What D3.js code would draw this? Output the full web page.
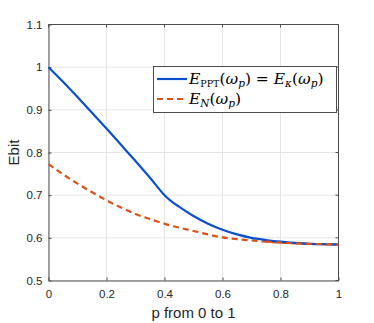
<!DOCTYPE html>
<html><head><meta charset="utf-8">
<script src="https://cdn.jsdelivr.net/npm/d3@7"></script>
<style>body{margin:0;background:#fff}</style>
</head><body>
<svg id="c" width="374" height="323"></svg>
<script>
const pValues = [0,0.05,0.1,0.15,0.2,0.25,0.3,0.35,0.4,0.425,0.45,0.5,0.55,0.6,0.65,0.7,0.75,0.8,0.85,0.9,0.95,1];
const eppt   = [1.0,0.966,0.930,0.893,0.856,0.818,0.780,0.741,0.700,0.685,0.673,0.651,0.633,0.619,0.608,0.600,0.595,0.591,0.588,0.586,0.585,0.584];
const en     = [0.773,0.749,0.727,0.707,0.688,0.671,0.656,0.644,0.633,0.628,0.624,0.616,0.608,0.601,0.597,0.594,0.591,0.589,0.587,0.586,0.585,0.584];
const xTicks = [0,0.2,0.4,0.6,0.8,1];
const yTicks = [0.5,0.6,0.7,0.8,0.9,1,1.1];
const xTickLabels = ["0","0.2","0.4","0.6","0.8","1"];
const yTickLabels = ["0.5","0.6","0.7","0.8","0.9","1","1.1"];

const svg = d3.select("#c");
const L=48.5, R=338.5, T=24.5, B=280.5;
const x = d3.scaleLinear().domain([0,1]).range([L,R]);
const y = d3.scaleLinear().domain([0.5,1.1]).range([B,T]);
const axisCol = "#4d4d4d", txtCol = "#262626";
const sans = "Helvetica, Arial, 'Liberation Sans', sans-serif";

// grid
const g = svg.append("g");
g.selectAll(".gx").data(xTicks).join("line")
  .attr("x1",d=>x(d)).attr("x2",d=>x(d)).attr("y1",T).attr("y2",B)
  .attr("stroke","#e5e5e5").attr("stroke-width",1);
g.selectAll(".gy").data(yTicks).join("line")
  .attr("y1",d=>y(d)).attr("y2",d=>y(d)).attr("x1",L).attr("x2",R)
  .attr("stroke","#e5e5e5").attr("stroke-width",1);

// axes
const xa = svg.append("g").attr("transform",`translate(0,${B})`)
  .call(d3.axisBottom(x).tickValues(xTicks).tickFormat((d,i)=>xTickLabels[i]).tickSizeInner(-3).tickSizeOuter(0).tickPadding(9));
const ya = svg.append("g").attr("transform",`translate(${L},0)`)
  .call(d3.axisLeft(y).tickValues(yTicks).tickFormat((d,i)=>yTickLabels[i]).tickSizeInner(-3).tickSizeOuter(0).tickPadding(6));
[xa,ya].forEach(a=>{
  a.select(".domain").attr("stroke",axisCol);
  a.selectAll(".tick line").attr("stroke",axisCol);
  a.selectAll(".tick text").attr("fill",txtCol).style("font-family",sans).style("font-size","11.5px");
});
// top & right box
svg.append("line").attr("x1",L).attr("x2",R).attr("y1",T).attr("y2",T).attr("stroke",axisCol);
svg.append("line").attr("x1",R).attr("x2",R).attr("y1",T).attr("y2",B).attr("stroke",axisCol);
svg.selectAll(".tt").data(xTicks).join("line").attr("x1",d=>x(d)).attr("x2",d=>x(d)).attr("y1",T).attr("y2",T+3).attr("stroke",axisCol);
svg.selectAll(".rt").data(yTicks).join("line").attr("y1",d=>y(d)).attr("y2",d=>y(d)).attr("x1",R).attr("x2",R-3).attr("stroke",axisCol);

// lines
const line = d3.line().x(d=>x(d[0])).y(d=>y(d[1])).curve(d3.curveMonotoneX);
const blue = "#0b4fcf", red = "#d95319";
svg.append("path").attr("d",line(pValues.map((p,i)=>[p,en[i]])))
  .attr("fill","none").attr("stroke",red).attr("stroke-width",2.2).attr("stroke-dasharray","6,4");
svg.append("path").attr("d",line(pValues.map((p,i)=>[p,eppt[i]])))
  .attr("fill","none").attr("stroke",blue).attr("stroke-width",2.2);
svg.append("path").attr("d",line(pValues.map((p,i)=>[p,en[i]]).slice(16)))
  .attr("fill","none").attr("stroke",red).attr("stroke-width",2.2).attr("stroke-dasharray","6,4");

// axis labels
svg.append("text").attr("x",(L+R)/2).attr("y",318).attr("text-anchor","middle")
  .attr("fill",txtCol).style("font-family",sans).style("font-size","15px").text("p from 0 to 1");
svg.append("text").attr("transform",`translate(19,${(T+B)/2}) rotate(-90)`).attr("text-anchor","middle")
  .attr("fill",txtCol).style("font-family",sans).style("font-size","15px").text("Ebit");

// legend
const lg = svg.append("g");
lg.append("rect").attr("x",153.5).attr("y",66.5).attr("width",183).attr("height",46)
  .attr("fill","#fff").attr("stroke",axisCol).attr("stroke-width",1);
lg.append("line").attr("x1",157).attr("x2",187).attr("y1",79).attr("y2",79).attr("stroke",blue).attr("stroke-width",2.2);
lg.append("line").attr("x1",157).attr("x2",187).attr("y1",99).attr("y2",99).attr("stroke",red).attr("stroke-width",2.2).attr("stroke-dasharray","6,4");
const serif = "'DejaVu Serif','Liberation Serif',serif";
function mk(yy){ return lg.append("text").attr("x",189).attr("y",yy).attr("fill","#000").style("font-family",serif).style("font-size","15.5px"); }
const t1 = mk(84);
t1.append("tspan").style("font-style","italic").text("E");
t1.append("tspan").attr("dy",3).style("font-size","9.5px").text("PPT");
t1.append("tspan").attr("dy",-3).text("(");
t1.append("tspan").style("font-style","italic").text("ω");
t1.append("tspan").attr("dy",3).style("font-size","10.5px").style("font-style","italic").text("p");
t1.append("tspan").attr("dy",-3).text(") = ");
t1.append("tspan").style("font-style","italic").text("E");
t1.append("tspan").attr("dy",3).style("font-size","10.5px").style("font-style","italic").text("κ");
t1.append("tspan").attr("dy",-3).text("(");
t1.append("tspan").style("font-style","italic").text("ω");
t1.append("tspan").attr("dy",3).style("font-size","10.5px").style("font-style","italic").text("p");
t1.append("tspan").attr("dy",-3).text(")");
const t2 = mk(104);
t2.append("tspan").style("font-style","italic").text("E");
t2.append("tspan").attr("dy",3).style("font-size","10.5px").style("font-style","italic").text("N");
t2.append("tspan").attr("dy",-3).text("(");
t2.append("tspan").style("font-style","italic").text("ω");
t2.append("tspan").attr("dy",3).style("font-size","10.5px").style("font-style","italic").text("p");
t2.append("tspan").attr("dy",-3).text(")");
</script>
</body></html>
